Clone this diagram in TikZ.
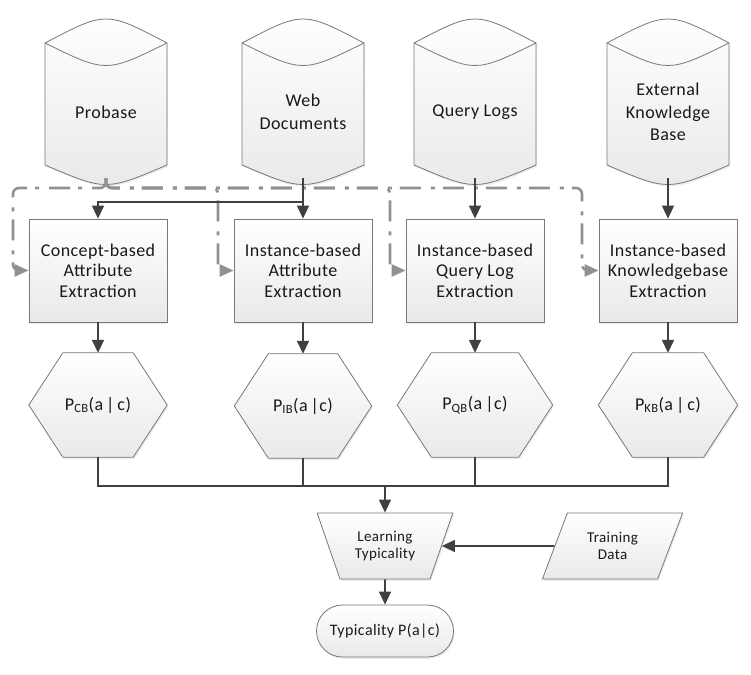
\documentclass[tikz,border=0pt]{standalone}
\usepackage{fontspec}
\setmainfont{Carlito}[LetterSpace=2.5]
\usetikzlibrary{arrows.meta,shapes.geometric,backgrounds,calc,shadows}
\definecolor{linec}{RGB}{64,64,64}
\definecolor{bordc}{RGB}{120,120,120}
\definecolor{ddc}{RGB}{145,145,145}
\definecolor{fillb}{RGB}{233,233,233}
\definecolor{txtc}{RGB}{25,25,25}
\tikzset{
  shp/.style={draw=bordc, line width=0.8pt, top color=white, bottom color=fillb,
    drop shadow={opacity=0.15, shadow xshift=1.2pt, shadow yshift=-1.8pt}},
  dbtext/.style={minimum width=122pt, minimum height=132pt, inner sep=0pt, align=center,
    font=\fontsize{18}{22.5}\selectfont, text=txtc},
  procbox/.style={shp, rectangle, minimum width=138pt, minimum height=103pt, inner sep=0pt,
    align=center, font=\fontsize{18}{20.5}\selectfont, text=txtc},
  hextext/.style={minimum height=104pt, inner sep=0pt, font=\fontsize{18}{22}\selectfont, text=txtc},
  smalltext/.style={align=center, inner sep=0pt, font=\fontsize{15}{17.7}\selectfont, text=txtc},
  conn/.style={draw=linec, line width=1.6pt, -{Triangle[length=13pt,width=12pt]}},
  plainline/.style={draw=linec, line width=1.6pt},
  ddline/.style={draw=ddc, line width=2.6pt, dash pattern=on 21pt off 10pt on 4pt off 8pt,
    rounded corners=6pt, -{Triangle[length=14pt,width=12pt]}},
}
\newcommand{\dbdraw}[1]{%
  \path[shp] ($(#1)+(-61,-69)$) .. controls ($(#1)+(0,-101)$) .. ($(#1)+(61,-69)$)
    -- ($(#1)+(61,53)$) .. controls ($(#1)+(0,79)$) .. ($(#1)+(-61,53)$) -- cycle;
  \draw[draw=bordc, line width=0.8pt] ($(#1)+(-61,-69)$) .. controls ($(#1)+(0,-39)$) .. ($(#1)+(61,-69)$);}
\newcommand{\hexdraw}[1]{%
  \path[shp] (#1.west) -- ($(#1.north west)+(34,0)$) -- ($(#1.north east)+(-34,0)$)
    -- (#1.east) -- ($(#1.south east)+(-34,0)$) -- ($(#1.south west)+(34,0)$) -- cycle;}
\begin{document}
\begin{tikzpicture}[x=1pt, y=-1pt]
\useasboundingbox (0,0) rectangle (751,674);

% data sources
\node[dbtext] (pb) at (106,112) {Probase};
\node[dbtext] (wd) at (303,112) {Web\\Documents};
\node[dbtext] (ql) at (475,112) {Query Logs};
\node[dbtext] (kb) at (668,112) {External\\Knowledge\\Base};

% extraction boxes
\node[procbox] (cb) at (98,270.5) {Concept-based\\Attribute\\Extraction};
\node[procbox] (ib) at (303,270.5) {Instance-based\\Attribute\\Extraction};
\node[procbox] (qb) at (475,270.5) {Instance-based\\Query Log\\Extraction};
\node[procbox] (kx) at (668,270.5) {Instance-based\\Knowledgebase\\Extraction};

% hexagons
\node[hextext, minimum width=138pt] (hcb) at (98,405) {P\textsubscript{CB}(a\,|\,c)};
\node[hextext, minimum width=137pt] (hib) at (303,406) {P\textsubscript{IB}(a\,|c)};
\node[hextext, minimum width=155pt] (hqb) at (475,405) {P\textsubscript{QB}(a\,|c)};
\node[hextext, minimum width=139pt] (hkb) at (668,405) {P\textsubscript{KB}(a\,|\,c)};

% bottom
\node[shp, smalltext, trapezium, trapezium left angle=63.4, trapezium right angle=63.4,
  shape border rotate=180, trapezium stretches=true, minimum width=136pt, minimum height=66pt]
  (lt) at (385,546) {Learning\\Typicality};
\node[shp, smalltext, trapezium, trapezium left angle=63.4, trapezium right angle=116.6,
  trapezium stretches=true, minimum width=141pt, minimum height=66pt]
  (td) at (612.5,546) {Training\\Data};
\node[shp, rectangle, rounded corners=26pt, minimum width=137pt, minimum height=52pt,
  inner sep=0pt, font=\fontsize{16}{19}\selectfont, text=txtc] (tp) at (385,631) {Typicality P(a|c)};

\begin{scope}[on background layer]
  \dbdraw{pb}\dbdraw{wd}\dbdraw{ql}\dbdraw{kb}
  \hexdraw{hcb}\hexdraw{hib}\hexdraw{hqb}\hexdraw{hkb}
\end{scope}

% coordinates
\coordinate (wj) at (303,202);
\coordinate (bj) at (385,486);
\coordinate (d1) at (13,188);
\coordinate (d2) at (218,188);
\coordinate (d3) at (390,188);
\coordinate (d4) at (582,188);

% dash-dot feeds from Probase
\draw[ddline] (pb.south) |- (d1) |- (cb.west);
\draw[ddline] (pb.south) |- (d2) |- (ib.west);
\draw[ddline] (pb.south) |- (d3) |- (qb.west);
\draw[ddline] (pb.south) |- (d4) |- (kx.west);

% solid connectors
\draw[conn] (wd.south) -- (ib.north);
\draw[conn] (wd.south) -- (wj) -| (cb.north);
\draw[conn] (ql.south) -- (qb.north);
\draw[conn] (kb.south) -- (kx.north);

\draw[conn] (cb.south) -- (hcb.north);
\draw[conn] (ib.south) -- (hib.north);
\draw[conn] (qb.south) -- (hqb.north);
\draw[conn] (kx.south) -- (hkb.north);

\draw[plainline] (hcb.south) |- (bj);
\draw[plainline] (hib.south) |- (bj);
\draw[plainline] (hqb.south) |- (bj);
\draw[plainline] (hkb.south) |- (bj);
\draw[conn] (bj) -- (lt);
\draw[conn] (td) -- (lt);
\draw[conn] (lt) -- (tp);
\end{tikzpicture}
\end{document}
